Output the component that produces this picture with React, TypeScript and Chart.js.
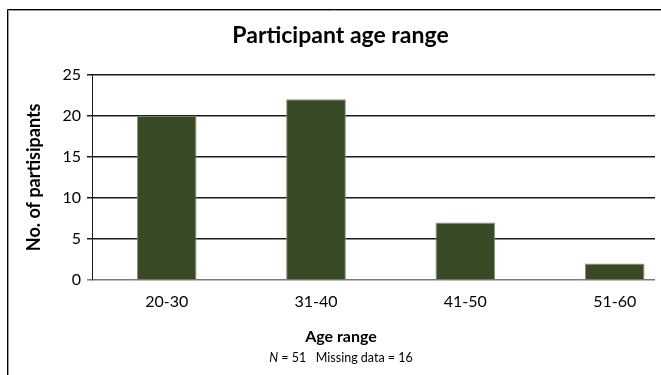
import React, { useEffect, useRef } from "react";
import { Chart, registerables } from "chart.js";

Chart.register(...registerables);

const categories = ["20-30", "31-40", "41-50", "51-60"];
const participants = [20, 22, 7, 2];
const yMin = 0;
const yMax = 25;
const yStep = 5;
const chartTitle = "Participant age range";
const xTitle = "Age range";
const yTitle = "No. of partisipants";
const noteItalic = "N";
const noteRest = " = 51   Missing data = 16";

const FONT = "Lato, 'Open Sans', sans-serif";

export default function App() {
  const ref = useRef<HTMLCanvasElement | null>(null);

  useEffect(() => {
    if (!ref.current) return;

    const decor = {
      id: "decor",
      afterDraw(chart: any) {
        const ctx = chart.ctx as CanvasRenderingContext2D;
        const area = chart.chartArea;
        ctx.save();
        ctx.lineWidth = 1;
        ctx.strokeStyle = "#9a9a9a";
        ctx.beginPath();
        ctx.moveTo(8.5, chart.height);
        ctx.lineTo(8.5, 10.5);
        ctx.lineTo(chart.width, 10.5);
        ctx.stroke();
        ctx.strokeStyle = "#000";
        ctx.beginPath();
        ctx.moveTo(7.5, chart.height);
        ctx.lineTo(7.5, 9.5);
        ctx.lineTo(chart.width, 9.5);
        ctx.stroke();

        const cx = 341;
        ctx.fillStyle = "#000";
        ctx.textBaseline = "middle";
        ctx.textAlign = "center";
        ctx.font = `bold 16px ${FONT}`;
        ctx.fillText(xTitle, cx, area.bottom + 57);

        const size = 12.5;
        ctx.font = `italic ${size}px ${FONT}`;
        const wN = ctx.measureText(noteItalic).width;
        ctx.font = `${size}px ${FONT}`;
        const wR = ctx.measureText(noteRest).width;
        const start = cx - (wN + wR) / 2;
        ctx.textAlign = "left";
        ctx.font = `italic ${size}px ${FONT}`;
        ctx.fillText(noteItalic, start, area.bottom + 78);
        ctx.font = `${size}px ${FONT}`;
        ctx.fillText(noteRest, start + wN, area.bottom + 78);
        ctx.restore();
      },
    };

    const chart = new Chart(ref.current, {
      type: "bar",
      data: {
        datasets: [
          {
            data: participants.map((v, i) => ({ x: i, y: v })),
            backgroundColor: "#374a25",
            borderColor: "#8a9a78",
            borderWidth: 1,
            barPercentage: 0.4,
            categoryPercentage: 1,
          },
        ],
      },
      options: {
        animation: false,
        responsive: false,
        maintainAspectRatio: false,
        layout: { padding: { left: 26, right: 6, top: 0, bottom: 0 } },
        plugins: {
          legend: { display: false },
          tooltip: { enabled: false },
          title: {
            display: true,
            text: chartTitle,
            color: "#000",
            font: { family: FONT, size: 23, weight: "bold" },
            padding: { top: 22, bottom: 25 },
          },
        },
        scales: {
          x: {
            type: "linear",
            offset: false,
            min: -0.5,
            max: 3.27,
            afterBuildTicks: (scale: any) => {
              scale.ticks = categories.map((_, i) => ({ value: i }));
            },
            afterFit: (scale: any) => {
              scale.height = 95;
            },
            ticks: {
              callback: (v: any) => categories[v] ?? "",
              color: "#000",
              font: { family: FONT, size: 16 },
              padding: 12,
              maxRotation: 0,
              autoSkip: false,
            },
            grid: { display: false, drawTicks: false, offset: false },
            border: { display: false },
          },
          y: {
            min: yMin,
            max: yMax,
            afterFit: (scale: any) => {
              scale.width = 66;
            },
            ticks: {
              stepSize: yStep,
              color: "#000",
              font: { family: FONT, size: 16 },
              padding: 6,
            },
            grid: {
              color: (c: any) => (c.tick && c.tick.value === 0 ? "#7a7a7a" : "#1a1a1a"),
              lineWidth: 1.5,
              tickLength: 5,
            },
            border: { display: true, color: "#1a1a1a", width: 1 },
            title: {
              display: true,
              text: yTitle,
              color: "#000",
              font: { family: FONT, size: 18, weight: "bold" },
              padding: { top: -3, bottom: 0 },
            },
          },
        },
      },
      plugins: [decor],
    });

    return () => chart.destroy();
  }, []);

  return (
    <div style={{ position: "absolute", left: 0, top: 0, width: 661, height: 375, background: "#fff" }}>
      <canvas ref={ref} width={661} height={375} style={{ display: "block", width: 661, height: 375 }} />
    </div>
  );
}
